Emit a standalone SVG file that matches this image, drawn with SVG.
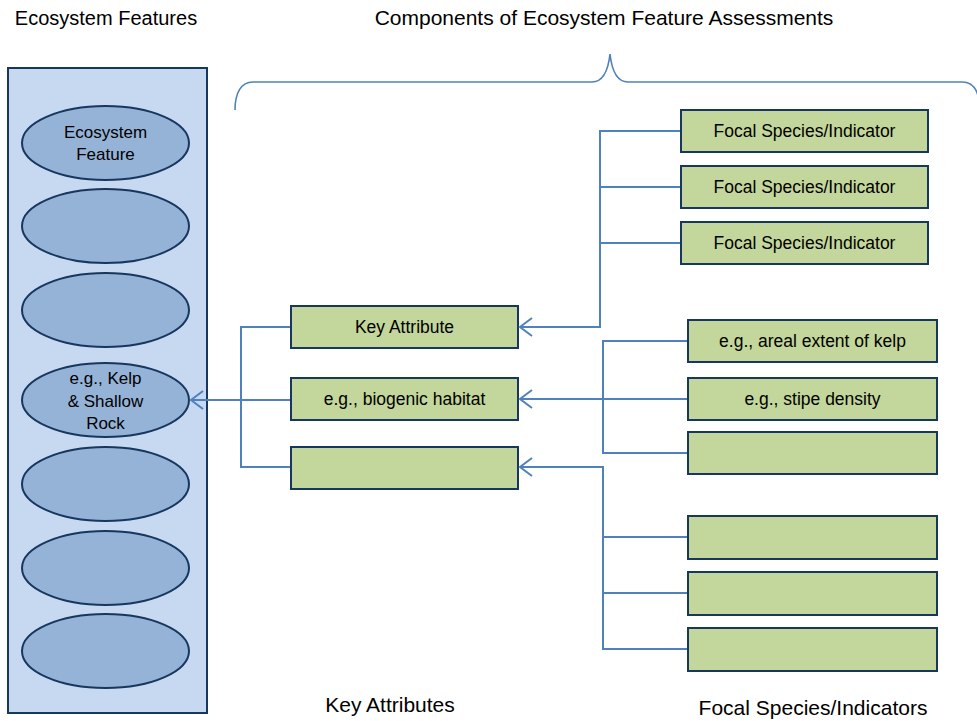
<svg xmlns="http://www.w3.org/2000/svg" width="977" height="721" viewBox="0 0 977 721">
<defs>
<style>
.t{font-family:"Liberation Sans",Arial,sans-serif;fill:#000;text-anchor:middle}
.title{font-size:21px}
.bt{font-size:17.5px}
.et{font-size:17px}
.ell{fill:#95B3D7;stroke:#17375E;stroke-width:2}
.box{fill:#C3D69B;stroke:#17375E;stroke-width:2}
.con{fill:none;stroke:#4F81BD;stroke-width:2}
</style>
<marker id="arr" markerWidth="16" markerHeight="22" refX="14" refY="11" orient="auto" markerUnits="userSpaceOnUse">
<path d="M2,2 L14,11 L2,20" fill="none" stroke="#4F81BD" stroke-width="2"/>
</marker>
</defs>
<rect width="977" height="721" fill="#fff"/>
<text class="t title" x="106" y="25" style="font-size:20px">Ecosystem Features</text>
<text class="t title" x="604" y="25">Components of Ecosystem Feature Assessments</text>
<text class="t title" x="390" y="712">Key Attributes</text>
<text class="t title" x="813" y="715">Focal Species/Indicators</text>
<path d="M235,110 C235,93 241,82 253,82 H592 C602,82 608,72 610,54 C612,72 618,82 628,82 H962 C971,82 977,88 979,100" fill="none" stroke="#4F81BD" stroke-width="1.6"/>
<g id="panel"><rect x="8" y="68" width="199" height="645" fill="#C6D9F1" stroke="#17375E" stroke-width="2"/></g>
<g id="ef1"><ellipse class="ell" cx="105.5" cy="143" rx="83.5" ry="37"/><text class="t et" x="105.5" y="138">Ecosystem</text><text class="t et" x="105.5" y="160">Feature</text></g>
<g id="ef2"><ellipse class="ell" cx="105.5" cy="226" rx="83.5" ry="37"/></g>
<g id="ef3"><ellipse class="ell" cx="105.5" cy="310" rx="83.5" ry="37"/></g>
<g id="ef4"><ellipse class="ell" cx="105.5" cy="400" rx="83.5" ry="37"/><text class="t et" x="105.5" y="384">e.g., Kelp</text><text class="t et" x="105.5" y="407">&amp; Shallow</text><text class="t et" x="105.5" y="429">Rock</text></g>
<g id="ef5"><ellipse class="ell" cx="105.5" cy="484" rx="83.5" ry="37"/></g>
<g id="ef6"><ellipse class="ell" cx="105.5" cy="568" rx="83.5" ry="37"/></g>
<g id="ef7"><ellipse class="ell" cx="105.5" cy="651" rx="83.5" ry="37"/></g>
<g id="ka1"><rect class="box" x="291" y="306" width="227" height="42"/><text class="t bt" x="404.5" y="333">Key Attribute</text></g>
<g id="ka2"><rect class="box" x="291" y="378" width="227" height="42"/><text class="t bt" x="404.5" y="405">e.g., biogenic habitat</text></g>
<g id="ka3"><rect class="box" x="291" y="447" width="227" height="42"/></g>
<g id="fs1"><rect class="box" x="681" y="110" width="247" height="42"/><text class="t bt" x="804.5" y="137">Focal Species/Indicator</text></g>
<g id="fs2"><rect class="box" x="681" y="166" width="247" height="42"/><text class="t bt" x="804.5" y="193">Focal Species/Indicator</text></g>
<g id="fs3"><rect class="box" x="681" y="222" width="247" height="42"/><text class="t bt" x="804.5" y="249">Focal Species/Indicator</text></g>
<g id="fs4"><rect class="box" x="688" y="320" width="249" height="42"/><text class="t bt" x="812.5" y="347">e.g., areal extent of kelp</text></g>
<g id="fs5"><rect class="box" x="688" y="378" width="249" height="42"/><text class="t bt" x="812.5" y="405">e.g., stipe density</text></g>
<g id="fs6"><rect class="box" x="688" y="432" width="249" height="42"/></g>
<g id="fs7"><rect class="box" x="688" y="516" width="249" height="43"/></g>
<g id="fs8"><rect class="box" x="688" y="572" width="249" height="43"/></g>
<g id="fs9"><rect class="box" x="688" y="628" width="249" height="43"/></g>
<g id="connectors">
<path class="con" d="M290,327 H241 V400 H192"/>
<path class="con" d="M290,467 H241 V400 H192"/>
<path class="con" d="M290,400 H191" marker-end="url(#arr)"/>
<path class="con" d="M680,131 H600 V327 H520"/>
<path class="con" d="M680,187 H600"/>
<path class="con" d="M680,243 H600"/>
<path class="con" d="M600,327 H520" marker-end="url(#arr)"/>
<path class="con" d="M687,341 H603 V453 H687"/>
<path class="con" d="M687,399 H520" marker-end="url(#arr)"/>
<path class="con" d="M687,649 H603 V467 H520" marker-end="url(#arr)"/>
<path class="con" d="M687,537 H603"/>
<path class="con" d="M687,593 H603"/>
</g>
</svg>
